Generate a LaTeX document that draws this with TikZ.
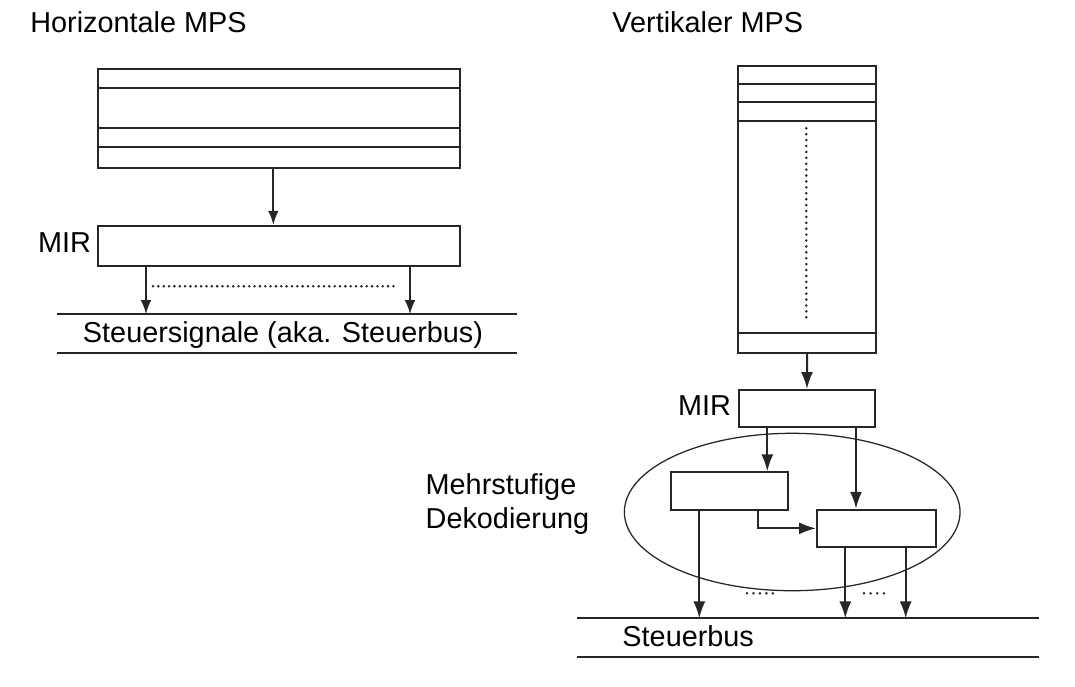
\documentclass[tikz,border=0pt]{standalone}
\usepackage{fontspec}
\setmainfont{Liberation Sans}
\usetikzlibrary{calc, positioning, arrows.meta, shapes.geometric}

\begin{document}
\begin{tikzpicture}[x=0.025cm, y=-0.025cm, line width=1.4pt, color=black!85,
    reg/.style 2 args={draw, rectangle, inner sep=0pt, anchor=north west,
        minimum width=#1*0.025cm, minimum height=#2*0.025cm},
    lbl/.style={inner sep=0pt, text=black, font=\fontsize{20.5}{23.7}\selectfont},
    arrS/.style={-{Latex[length=10pt, width=7.5pt]}},
    arrL/.style={-{Latex[length=12pt, width=8.5pt]}},
    dots/.style={line cap=round, line width=2pt, dash pattern=on 0pt off #1},
    dots/.default=3.8pt]

    \useasboundingbox (0,0) rectangle (1075,686);

    % =================================================================
    % 1. HORIZONTALE MPS
    % =================================================================
    \node[lbl, anchor=base west] (titH) at (29.4,32.3) {Horizontale MPS};

    % Speicher mit Zeilen
    \node[reg={362.3}{98.4}] (mpsH) at (96.7,68.3) {};
    \foreach \y in {88.3,128.3,146.7} {
        \draw (mpsH.west |- 0,\y) -- (mpsH.east |- 0,\y);
    }

    % Mikroinstruktionsregister
    \node[reg={362.3}{40.3}] (mirH) at (96.7,225) {};
    \node[lbl, anchor=base east] (mirHlbl) at (92,252.7) {MIR};
    \draw[arrS] ($(mpsH.south)+(-5.5,0)$) -- ($(mirH.north)+(-5.5,0)$);

    % Steuersignale
    \coordinate (busH) at (56.7,314.3);
    \draw (busH) -- (517.3,314.3);
    \draw (56.7,353.3) -- (517.3,353.3);
    \node[lbl, anchor=base west] (sigH) at (82,342.7) {Steuersignale (aka. Steuerbus)};

    \draw[arrS] ($(mirH.south west)+(49.3,0)$) coordinate (h1) -- (h1 |- busH);
    \draw[arrS] ($(mirH.south west)+(313.3,0)$) coordinate (h2) -- (h2 |- busH);
    \draw[dots] ($(mirH.south west)+(56.3,19)$) -- ($(mirH.south west)+(299.3,19)$);

    % =================================================================
    % 2. VERTIKALER MPS
    % =================================================================
    \node[lbl, anchor=base west] (titV) at (611.5,32.3) {Vertikaler MPS};

    \node[reg={137.7}{286.7}] (mpsV) at (737.2,65) {};
    \foreach \y in {83.7,102.3,120.7,333.3} {
        \draw (mpsV.west |- 0,\y) -- (mpsV.east |- 0,\y);
    }
    \draw[dots=4.2pt] (806.3,128.3) -- (806.3,320.7);

    \node[reg={136.6}{36.7}] (mirV) at (737.7,389) {};
    \node[lbl, anchor=base east] (mirVlbl) at (732,415) {MIR};
    \draw[arrL] (mpsV.south) -- (mirV.north);

    % Mehrstufige Dekodierung
    \node[draw, ellipse, line width=0.9pt, inner sep=0pt,
        minimum width=335.7*0.025cm, minimum height=157.4*0.025cm] (dek) at (792.2,512) {};
    \node[reg={117.3}{37.4}] (dec1) at (670,471.3) {};
    \node[reg={119}{37.3}] (dec2) at (816,508.7) {};
    \node[lbl, anchor=north west, align=left] (mehr) at (424.7,473) {Mehrstufige\\Dekodierung};

    \draw[arrL] ($(mirV.south west)+(29.6,0)$) coordinate (v1) -- (v1 |- dec1.north);
    \draw[arrL] ($(mirV.south west)+(118.3,0)$) coordinate (v2) -- (v2 |- dec2.north);
    \draw[arrL] ($(dec1.south west)+(87.7,0)$) |- (dec2.west);

    % Steuerbus
    \coordinate (busV) at (577.3,618.3);
    \draw (busV) -- (1039.3,618.3);
    \draw (577.3,656.7) -- (1039.3,656.7);
    \node[lbl, anchor=base west] (sigV) at (621.5,646.7) {Steuerbus};

    \draw[arrL] ($(dec1.south west)+(29.3,0)$) coordinate (d1) -- (d1 |- busV);
    \draw[arrL] ($(dec2.south west)+(29.3,0)$) coordinate (d2) -- (d2 |- busV);
    \draw[arrL] ($(dec2.south west)+(89.7,0)$) coordinate (d3) -- (d3 |- busV);
    \draw[dots=4.6pt] (747,593.3) -- (773,593.3);
    \draw[dots=4.7pt] (864,593.3) -- (884,593.3);

\end{tikzpicture}
\end{document}
